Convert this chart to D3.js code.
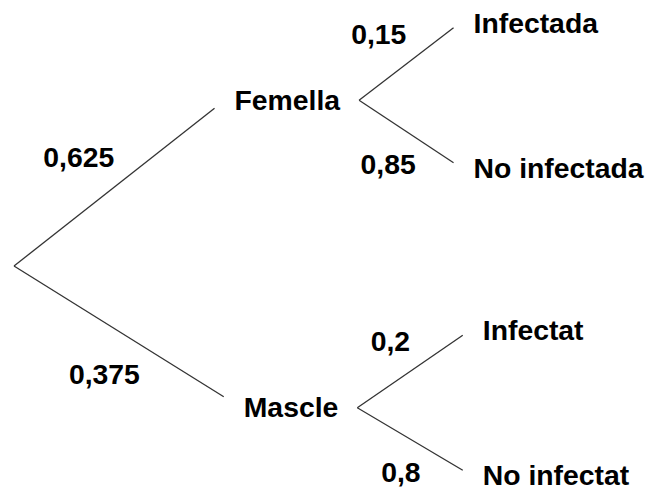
<!DOCTYPE html>
<html>
<head>
<meta charset="utf-8">
<script src="https://cdn.jsdelivr.net/npm/d3@7"></script>
<style>
  body { margin: 0; background: #fff; }
  text { font-family: "Liberation Sans", Arial, sans-serif; font-weight: bold; font-size: 27px; fill: #000; }
</style>
</head>
<body>
<svg id="chart" width="649" height="491"></svg>
<script>
const sexes        = ["Femella", "Mascle"];
const sexProbs     = ["0,625", "0,375"];
const outcomes     = [["Infectada", "No infectada"], ["Infectat", "No infectat"]];
const outcomeProbs = [["0,15", "0,85"], ["0,2", "0,8"]];

const width  = 649;
const height = 491;
const stretch  = 1.05;   // lettering is a touch wider than plain Arial
const rootY    = 249;
const apexDrop = 17;
const midDrop  = 5;
const skew     = 0.03;   // the lower branch sits slightly further right

const svg = d3.select("#chart");

const treeData = {
  name: "",
  children: sexes.map((s, i) => ({
    name: s,
    prob: sexProbs[i],
    children: outcomes[i].map((o, j) => ({ name: o, prob: outcomeProbs[i][j] }))
  }))
};

const root = d3.hierarchy(treeData);
d3.cluster()
  .nodeSize([145, 1])
  .separation((a, b) => a.parent === b.parent ? 1 : 1.12)(root);

// depth -> left edge of the label (root: apex of the tree)
const xDepth = d3.scaleLinear().domain([0, 1, 2]).range([14, 239, 478]);
const yPos = d => rootY + d.x + (d.depth === 1 ? midDrop : 0);
const xPos = d => {
  if (d.depth === 0) return xDepth(0);
  const branch = d.ancestors().find(a => a.depth === 1);
  return xDepth(d.depth) + skew * (yPos(branch) - rootY);
};

const nodes = root.descendants().filter(d => d.depth > 0);

const labels = svg.append("g").selectAll("g.node")
  .data(nodes)
  .join("g")
  .attr("class", "node")
  .attr("transform", d => `translate(${xPos(d)},${yPos(d)}) scale(${stretch},1)`);

labels.append("text")
  .attr("dy", "0.36em")
  .text(d => d.data.name)
  .each(function(d) { d.w = this.getComputedTextLength() * stretch; });

function startPoint(s) {
  if (s.depth === 0) return [xPos(s), rootY + apexDrop];
  return [xPos(s) + s.w + 19, yPos(s)];
}
function endPoint(s, t) {
  const up = t.x < s.x;
  const off = t.depth === 1 ? (up ? 8 : -11) : (up ? 5 : -5);
  return [xPos(t) - 20, yPos(t) + off];
}

const links = root.links().map(l => {
  const a = startPoint(l.source);
  const b = endPoint(l.source, l.target);
  return { a, b, up: l.target.x < l.source.x, depth: l.target.depth, prob: l.target.data.prob };
});

svg.insert("g", ":first-child").selectAll("line")
  .data(links)
  .join("line")
  .attr("x1", d => d.a[0])
  .attr("y1", d => d.a[1])
  .attr("x2", d => d.b[0])
  .attr("y2", d => d.b[1])
  .attr("stroke", "#333")
  .attr("stroke-width", 1.3);

// probability labels: right edge set back from the branch end
svg.append("g").selectAll("g.prob")
  .data(links)
  .join("g")
  .attr("class", "prob")
  .attr("transform", d => {
    const f = d.up ? 0.5 : 0.4;
    const x = d.b[0] - f * (d.b[0] - d.a[0]);
    const my = (d.a[1] + d.b[1]) / 2;
    const y = my + (d.up ? -30 : (d.depth === 1 ? 43 : 33));
    return `translate(${x},${y}) scale(${stretch},1)`;
  })
  .append("text")
  .attr("text-anchor", "end")
  .attr("dy", "0.36em")
  .text(d => d.prob);
</script>
</body>
</html>
